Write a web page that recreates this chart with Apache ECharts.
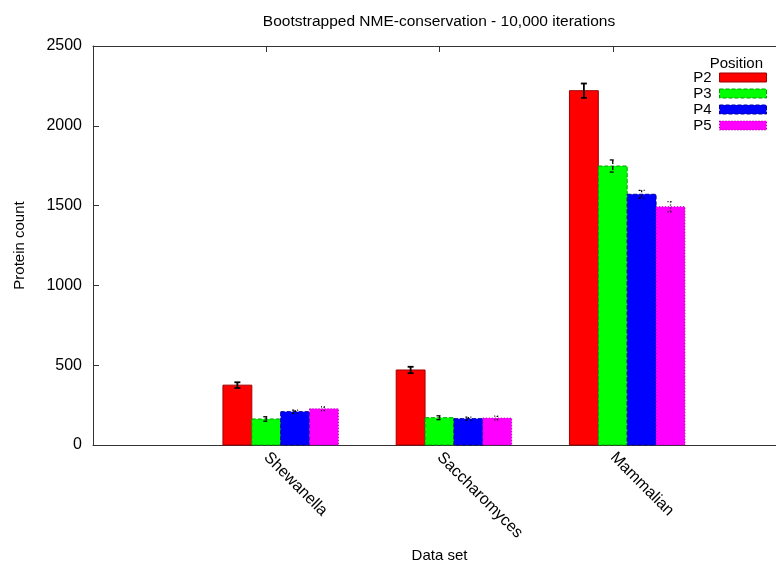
<!DOCTYPE html>
<html>
<head>
<meta charset="utf-8">
<script src="https://cdn.jsdelivr.net/npm/echarts@6/dist/echarts.min.js"></script>
<style>
  html, body { margin: 0; padding: 0; background: #fff; }
  #chart { width: 776px; height: 565px; }
</style>
</head>
<body>
<div id="chart"></div>
<script>
// Data sets on the x axis (cluster positions 0, 1, 2)
const categories = ['Shewanella', 'Saccharomyces', 'Mammalian'];
const positions = ['P2', 'P3', 'P4', 'P5'];

// Bootstrapped protein counts and their error half-widths
const p2 = [375, 470, 2220];
const p2Err = [18, 20, 45];
const p3 = [163, 171, 1748];
const p3Err = [14, 12, 38];
const p4 = [209, 165, 1571];
const p4Err = [10, 10, 25];
const p5 = [227, 169, 1493];
const p5Err = [12, 12, 32];

const yTicks = [0, 500, 1000, 1500, 2000, 2500];

const values = [p2, p3, p4, p5];
const errors = [p2Err, p3Err, p4Err, p5Err];

const fills = ['#ff0000', '#00ff00', '#0000ff', '#ff00ff'];
const edges = ['#a00000', '#00a000', '#0000a0', '#a000a0'];
const edgeDash = ['solid', [4, 2], [4, 2], [1, 2]];
const errDash = [null, [4, 2], [2, 3], [1, 2]];

const FONT = 'Liberation Sans, Arial, Helvetica, sans-serif';
const SLOT = 1 / 6;      // one bar in a cluster of 4 bars + 2 gap slots
const START = -0.25;     // left edge of the first bar relative to the cluster tick

function makeRender(j) {
  return function (params, api) {
    const x = api.value(0) + START + j * SLOT;
    const v = api.value(1);
    const e = api.value(2);
    const tl = api.coord([x, v]);
    const br = api.coord([x + SLOT, 0]);
    const cx = (tl[0] + br[0]) / 2;
    const hi = api.coord([x, v + e])[1];
    const lo = api.coord([x, v - e])[1];
    const cap = 3;
    const errStyle = {
      stroke: '#000',
      lineWidth: j === 0 ? 1.8 : 1.3,
      lineDash: errDash[j],
      fill: null
    };
    return {
      type: 'group',
      children: [
        {
          type: 'rect',
          shape: { x: tl[0], y: tl[1], width: br[0] - tl[0], height: br[1] - tl[1] },
          style: {
            fill: fills[j],
            stroke: edges[j],
            lineWidth: 1,
            lineDash: edgeDash[j] === 'solid' ? null : edgeDash[j]
          }
        },
        { type: 'line', shape: { x1: cx, y1: hi, x2: cx, y2: lo }, style: errStyle },
        { type: 'line', shape: { x1: cx - cap, y1: hi, x2: cx + cap, y2: hi }, style: errStyle },
        { type: 'line', shape: { x1: cx - cap, y1: lo, x2: cx + cap, y2: lo }, style: errStyle }
      ]
    };
  };
}

const series = positions.map(function (name, j) {
  return {
    name: name,
    type: 'custom',
    xAxisIndex: 0,
    yAxisIndex: 0,
    clip: false,
    itemStyle: { color: fills[j] },
    renderItem: makeRender(j),
    encode: { x: 0, y: 1 },
    data: categories.map(function (c, i) { return [i, values[j][i], errors[j][i]]; })
  };
});

const chart = echarts.init(document.getElementById('chart'), null, { renderer: 'canvas' });

const axisLineStyle = { color: '#333', width: 1 };

chart.setOption({
  animation: false,
  backgroundColor: '#fff',
  title: [
    {
      text: 'Bootstrapped NME-conservation - 10,000 iterations',
      left: 439,
      textAlign: 'center',
      top: 14,
      padding: 0,
      textStyle: { fontFamily: FONT, fontSize: 15.5, fontWeight: 'normal', color: '#000' }
    },
    {
      text: 'Position',
      right: 13,
      top: 56,
      padding: 0,
      textStyle: { fontFamily: FONT, fontSize: 15, fontWeight: 'normal', color: '#000' }
    }
  ],
  legend: {
    orient: 'vertical',
    right: 9,
    top: 70,
    padding: 0,
    align: 'right',
    itemWidth: 47,
    itemHeight: 9,
    itemGap: 1,
    icon: 'rect',
    textStyle: { fontFamily: FONT, fontSize: 15, color: '#000', padding: [0, 3, 0, 0] },
    data: positions.map(function (name, j) {
      return {
        name: name,
        itemStyle: {
          color: fills[j],
          borderColor: edges[j],
          borderWidth: 1,
          borderType: edgeDash[j] === 'solid' ? 'solid' : edgeDash[j]
        }
      };
    })
  },
  grid: {
    left: 93,
    width: 693,
    top: 46,
    height: 399,
    containLabel: false,
    outerBoundsMode: 'none'
  },
  xAxis: [
    {
      type: 'value',
      position: 'bottom',
      min: -1,
      max: 3,
      interval: 1,
      name: 'Data set',
      nameLocation: 'middle',
      nameGap: 102,
      nameTextStyle: { fontFamily: FONT, fontSize: 15, color: '#000' },
      axisLine: { show: true, onZero: false, lineStyle: axisLineStyle },
      axisTick: { show: true, inside: true, length: 6, lineStyle: axisLineStyle },
      splitLine: { show: false },
      axisLabel: {
        rotate: -45,
        margin: 10,
        fontFamily: FONT,
        fontSize: 16,
        color: '#000',
        formatter: function (v) {
          return Number.isInteger(v) && categories[v] !== undefined ? categories[v] : '';
        }
      }
    },
    {
      type: 'value',
      position: 'top',
      min: -1,
      max: 3,
      interval: 1,
      axisLine: { show: true, onZero: false, lineStyle: axisLineStyle },
      axisTick: { show: true, inside: true, length: 6, lineStyle: axisLineStyle },
      splitLine: { show: false },
      axisLabel: { show: false }
    }
  ],
  yAxis: [
    {
      type: 'value',
      position: 'left',
      min: yTicks[0],
      max: yTicks[yTicks.length - 1],
      interval: yTicks[1] - yTicks[0],
      name: 'Protein count',
      nameLocation: 'middle',
      nameRotate: 90,
      nameGap: 66,
      nameTextStyle: { fontFamily: FONT, fontSize: 15, color: '#000' },
      axisLine: { show: true, onZero: false, lineStyle: axisLineStyle },
      axisTick: { show: true, inside: true, length: 6, lineStyle: axisLineStyle },
      splitLine: { show: false },
      axisLabel: {
        margin: 11,
        fontFamily: FONT,
        fontSize: 16,
        color: '#000',
        formatter: function (v) { return String(v); }
      }
    }
  ],
  series: series
});
</script>
</body>
</html>
